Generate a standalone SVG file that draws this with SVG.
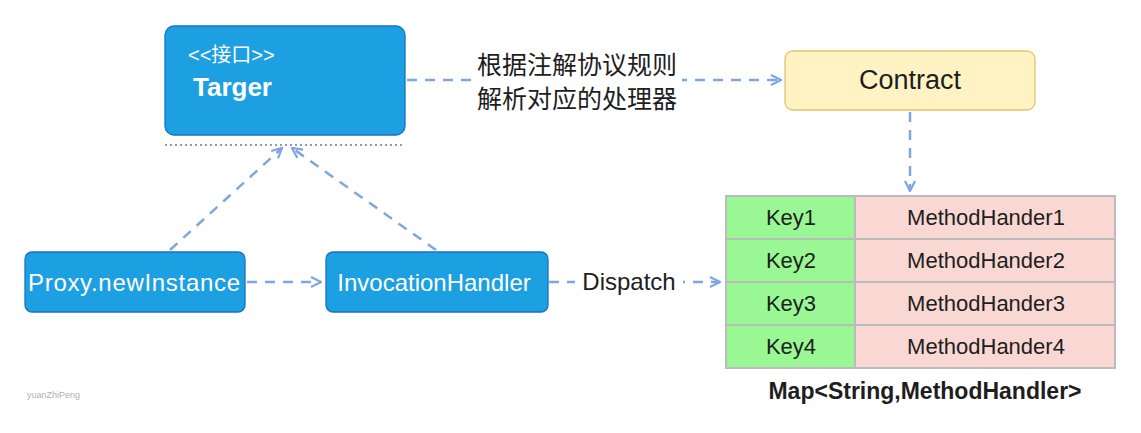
<svg xmlns="http://www.w3.org/2000/svg" width="1141" height="433" viewBox="0 0 1141 433">
<defs>
<style>
.blue{fill:#1ca0e2;stroke:#1971c2;stroke-width:1.3}
.wt{fill:#ffffff;font-family:"Liberation Sans","Noto Sans CJK SC",sans-serif}
.bt{fill:#1e1e1e;font-family:"Liberation Sans","Noto Sans CJK SC",sans-serif}
.conn{fill:none;stroke:#7fa6e0;stroke-width:2.5;stroke-dasharray:10 8}
.key{fill:#99f894;stroke:#bbbbbb;stroke-width:2}
.val{fill:#f9d8d3;stroke:#bbbbbb;stroke-width:2}
</style>
<marker id="ah" viewBox="0 0 12 12" refX="11" refY="6" markerWidth="12" markerHeight="12" markerUnits="userSpaceOnUse" orient="auto">
<path d="M1,1 L11,6 L1,11" fill="none" stroke="#7fa6e0" stroke-width="2.2"/>
</marker>
</defs>
<rect width="1141" height="433" fill="#ffffff"/>

<g id="connectors">
<line class="conn" x1="407" y1="80" x2="781" y2="80" marker-end="url(#ah)"/>
<line class="conn" x1="910" y1="112" x2="910" y2="191" marker-end="url(#ah)"/>
<line class="conn" x1="247" y1="282" x2="321" y2="282" marker-end="url(#ah)"/>
<line class="conn" x1="549" y1="282" x2="720" y2="282" marker-end="url(#ah)"/>
<line class="conn" x1="170" y1="250" x2="282" y2="148" marker-end="url(#ah)"/>
<line class="conn" x1="436" y1="250" x2="292" y2="148" marker-end="url(#ah)"/>
<rect x="472" y="46" width="210" height="68" fill="#ffffff"/>
<text class="bt" x="477" y="74" font-size="25">根据注解协议规则</text>
<text class="bt" x="477" y="108" font-size="25">解析对应的处理器</text>
<rect x="575" y="266" width="108" height="32" fill="#ffffff"/>
<text class="bt" x="629" y="290" text-anchor="middle" font-size="24">Dispatch</text>
</g>

<g id="targer">
<rect class="blue" x="165" y="26" width="240" height="109" rx="9"/>
<text class="wt" x="188" y="62" font-size="20">&lt;&lt;接口&gt;&gt;</text>
<text class="wt" x="193" y="96" font-weight="bold" font-size="26">Targer</text>
</g>
<line id="separator" x1="165" y1="145" x2="405" y2="145" stroke="#999999" stroke-width="2" stroke-dasharray="2 3"/>

<g id="contract">
<rect x="785" y="51" width="250" height="59" rx="8" fill="#fff3c4" stroke="#e2c46a" stroke-width="1.3"/>
<text class="bt" x="910" y="89" text-anchor="middle" font-size="27">Contract</text>
</g>

<g id="proxy">
<rect class="blue" x="25" y="252" width="220" height="60" rx="7"/>
<text class="wt" x="134" y="291" text-anchor="middle" font-size="24" textLength="212">Proxy.newInstance</text>
</g>

<g id="invocation">
<rect class="blue" x="326" y="252" width="222" height="60" rx="7"/>
<text class="wt" x="434" y="291" text-anchor="middle" font-size="24">InvocationHandler</text>
</g>

<g id="map">
<rect class="key" x="726" y="196" width="129" height="43"/>
<rect class="val" x="855" y="196" width="260" height="43"/>
<rect class="key" x="726" y="239" width="129" height="43"/>
<rect class="val" x="855" y="239" width="260" height="43"/>
<rect class="key" x="726" y="282" width="129" height="43"/>
<rect class="val" x="855" y="282" width="260" height="43"/>
<rect class="key" x="726" y="325" width="129" height="43"/>
<rect class="val" x="855" y="325" width="260" height="43"/>
<g class="bt" text-anchor="middle" font-size="22">
<text x="791" y="225">Key1</text>
<text x="986" y="225">MethodHander1</text>
<text x="791" y="268">Key2</text>
<text x="986" y="268">MethodHander2</text>
<text x="791" y="311">Key3</text>
<text x="986" y="311">MethodHander3</text>
<text x="791" y="354">Key4</text>
<text x="986" y="354">MethodHander4</text>
</g>
<text class="bt" x="925" y="399" text-anchor="middle" font-weight="bold" font-size="23">Map&lt;String,MethodHandler&gt;</text>
</g>

<text x="27" y="398" fill="#b0b0b0" font-family="Liberation Sans, sans-serif" font-size="9">yuanZhiPeng</text>
</svg>
